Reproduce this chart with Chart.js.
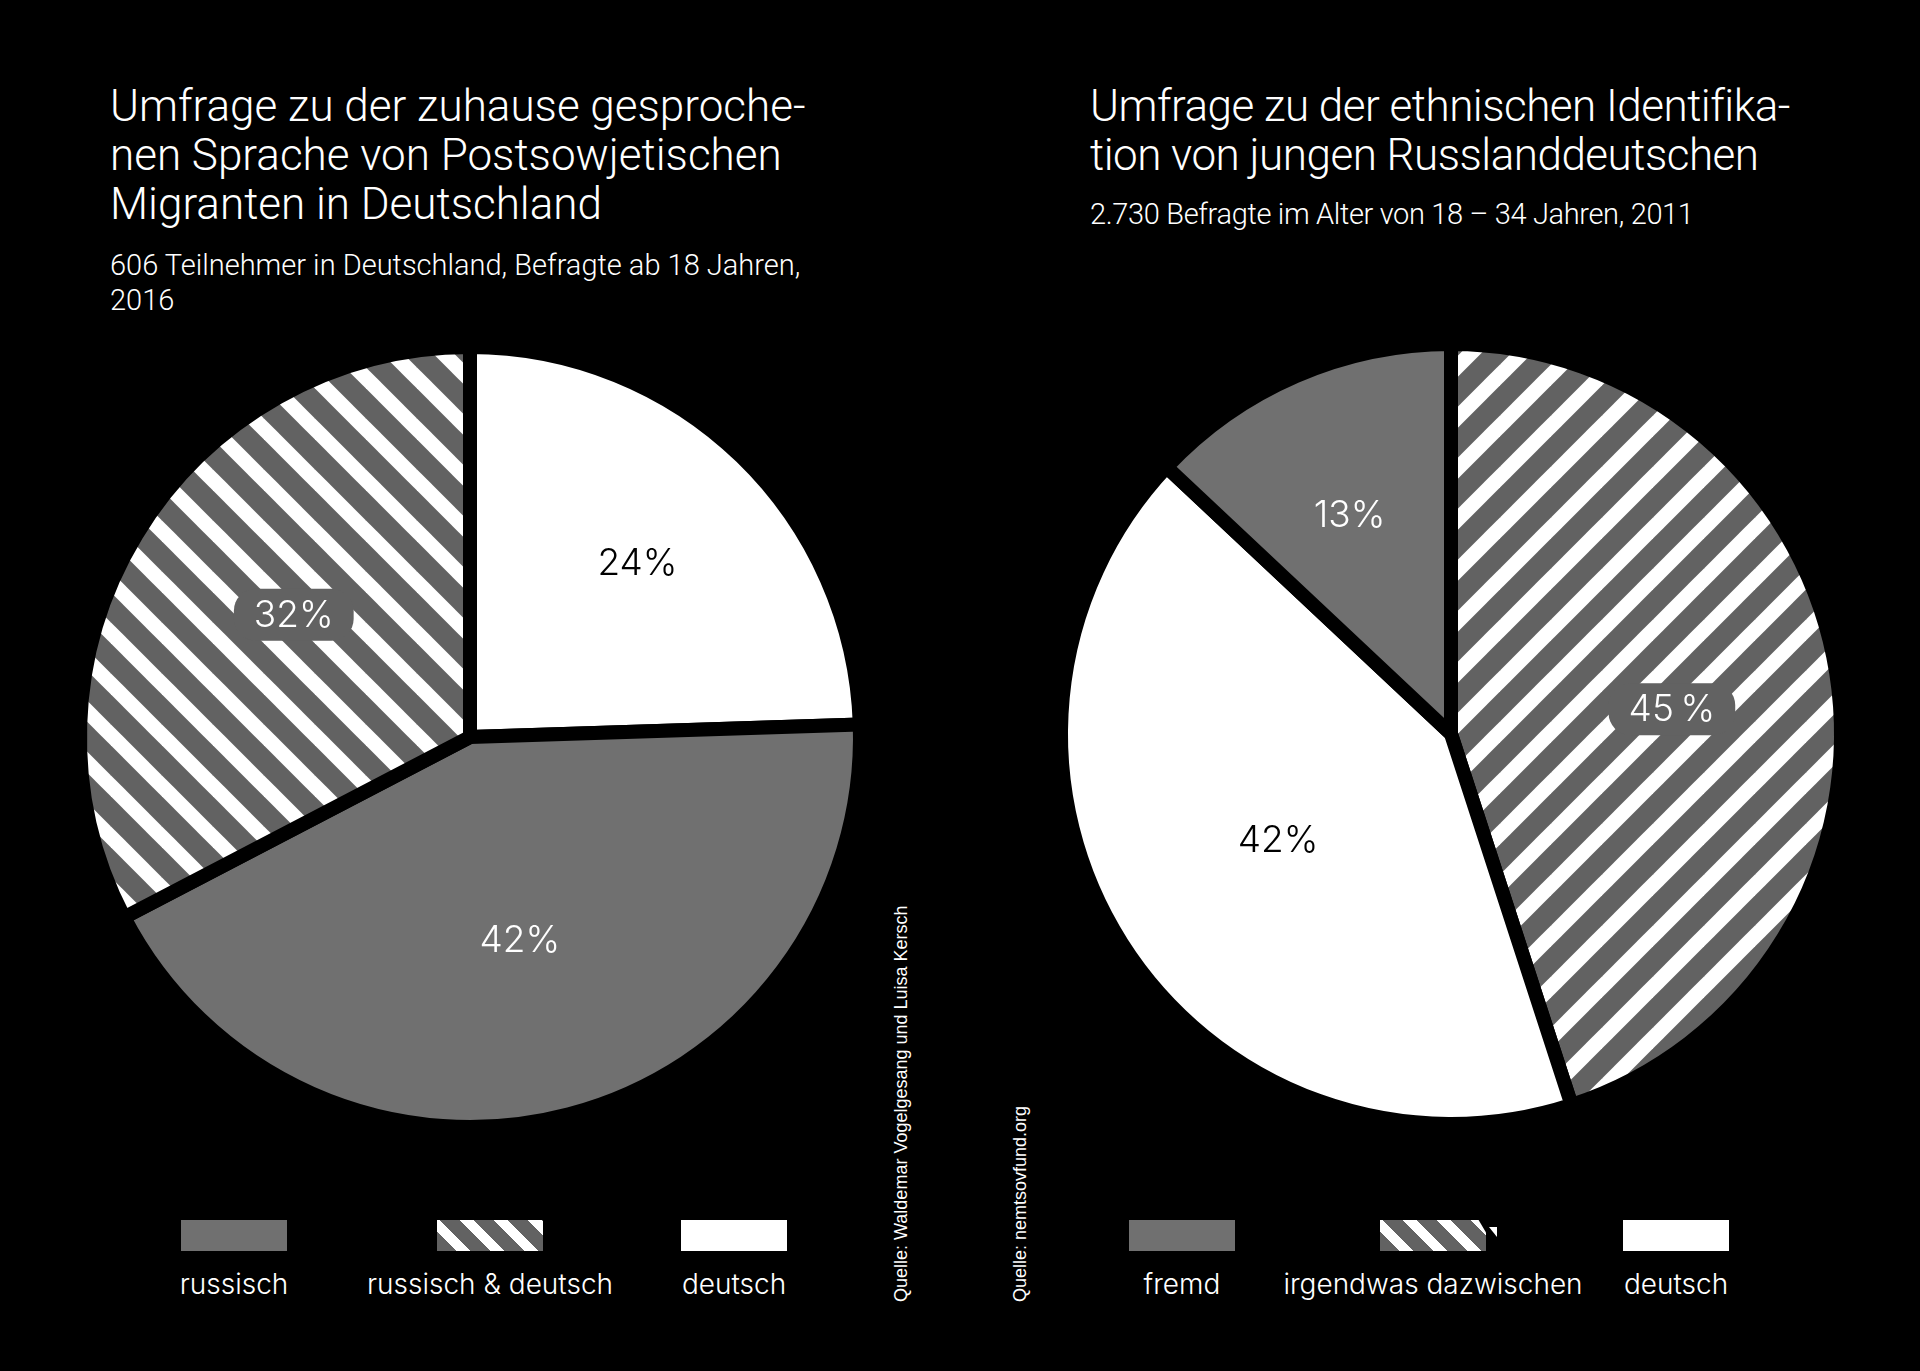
<!DOCTYPE html>
<html><head><meta charset="utf-8">
<script src="https://cdn.jsdelivr.net/npm/chart.js@4.4.1/dist/chart.umd.min.js"></script>
<style>
html,body{margin:0;padding:0;background:#000;}
body{width:1920px;height:1371px;position:relative;overflow:hidden;font-family:Roboto,"Noto Sans",sans-serif;color:#fff;}
.title{position:absolute;font-weight:300;font-size:44px;line-height:49px;white-space:nowrap;}
.sub{position:absolute;font-weight:300;font-size:29px;line-height:35px;white-space:nowrap;}
canvas{position:absolute;}
.leg{position:absolute;top:1220px;width:0;height:0;}
.sw{position:absolute;width:106px;height:31px;left:-53px;top:0;}
.tri{position:absolute;left:56px;top:7px;width:8px;height:10px;background:#fff;clip-path:polygon(0 0,100% 0,100% 100%);}
.lab{position:absolute;top:50px;left:0;transform:translateX(-50%);font-family:Inter,sans-serif;font-weight:300;font-size:28px;line-height:28px;white-space:nowrap;}
.src{position:absolute;font-family:"Liberation Sans",Arial,sans-serif;font-size:18px;line-height:21px;transform-origin:left top;transform:rotate(-90deg);white-space:nowrap;}
</style>
</head>
<body>
<div class="title" id="t1" style="left:110px;top:82px;"></div>
<div class="sub" id="s1" style="left:110px;top:248px;"></div>
<div class="title" id="t2" style="left:1090px;top:82px;letter-spacing:-0.5px;"></div>
<div class="sub" id="s2" style="left:1090px;top:197px;letter-spacing:-0.35px;"></div>
<canvas id="pieL" width="820" height="820" style="left:60px;top:327px;"></canvas>
<canvas id="pieR" width="820" height="820" style="left:1041px;top:324px;"></canvas>
<div id="legL"></div>
<div id="legR"></div>
<div class="src" style="left:891px;top:1302px;">Quelle: Waldemar Vogelgesang und Luisa Kersch</div>
<div class="src" style="left:1010px;top:1302px;">Quelle: nemtsovfund.org</div>
<script>
// ---- data ----
const leftTitle = ['Umfrage zu der zuhause gesproche-', 'nen Sprache von Postsowjetischen', 'Migranten in Deutschland'];
const leftSubtitle = ['606 Teilnehmer in Deutschland, Befragte ab 18 Jahren,', '2016'];
const leftCategories = ['deutsch', 'russisch', 'russisch & deutsch'];   // clockwise from top
const leftValues = [24, 42, 32];
const leftLegendOrder = [1, 2, 0];

const rightTitle = ['Umfrage zu der ethnischen Identifika-', 'tion von jungen Russlanddeutschen'];
const rightSubtitle = ['2.730 Befragte im Alter von 18 \u2013 34 Jahren, 2011'];
const rightCategories = ['irgendwas dazwischen', 'deutsch', 'fremd']; // clockwise from top
const rightValues = [45, 42, 13];
const rightLegendOrder = [2, 0, 1];

// ---- styles ----
const WHITE = '#ffffff', GREY = '#707070', SGREY = '#626262';
function stripePattern(dir) {
  const P = 51, c = document.createElement('canvas');
  c.width = c.height = P;
  const g = c.getContext('2d');
  g.fillStyle = SGREY; g.fillRect(0, 0, P, P);
  g.strokeStyle = WHITE; g.lineWidth = 15;
  for (let k = -2; k <= 2; k++) {
    g.beginPath();
    if (dir === 'back') { g.moveTo(k * P - P, -P); g.lineTo(k * P + 2 * P, 2 * P); }
    else { g.moveTo(k * P - P, 2 * P); g.lineTo(k * P + 2 * P, -P); }
    g.stroke();
  }
  return g.createPattern(c, 'repeat');
}
const swatchStripe = 'repeating-linear-gradient(45deg,' + SGREY + ' 0 14px,#fff 14px 24px)';

function fill(id, lines) { document.getElementById(id).innerHTML = lines.join('<br>'); }
fill('t1', leftTitle); fill('s1', leftSubtitle);
fill('t2', rightTitle); fill('s2', rightSubtitle);

const pctLabels = {
  id: 'pctLabels',
  afterDatasetsDraw(chart, args, opts) {
    const ctx = chart.ctx;
    const meta = chart.getDatasetMeta(0);
    const vals = chart.data.datasets[0].data;
    meta.data.forEach((arc, i) => {
      const p = arc.getProps(['x', 'y', 'startAngle', 'endAngle', 'outerRadius'], true);
      const pos = opts.pos[i];
      const a = p.startAngle + pos.t * (p.endAngle - p.startAngle);
      const r = p.outerRadius * pos.r;
      const x = p.x + Math.cos(a) * r, y = p.y + Math.sin(a) * r;
      const text = vals[i] + (opts.gap && opts.gap[i] ? '\u2009%' : '%');
      ctx.save();
      ctx.font = '300 37px Inter';
      ctx.textAlign = 'center';
      ctx.textBaseline = 'middle';
      if (opts.pill[i]) {
        const w = ctx.measureText(text).width + 40, h = 52;
        ctx.fillStyle = SGREY;
        ctx.beginPath();
        ctx.roundRect(x - w / 2, y - h / 2, w, h, 22);
        ctx.fill();
      }
      ctx.fillStyle = opts.color[i];
      ctx.fillText(text, x, y + 1);
      ctx.restore();
    });
  }
};

function makePie(id, cats, vals, colors, labelOpts) {
  return new Chart(document.getElementById(id), {
    type: 'pie',
    data: { labels: cats, datasets: [{ data: vals, backgroundColor: colors, borderColor: '#000', borderWidth: 14, hoverOffset: 0 }] },
    options: {
      responsive: false, animation: false, events: [],
      radius: 390,
      layout: { padding: 0 },
      plugins: { legend: { display: false }, tooltip: { enabled: false }, pctLabels: labelOpts }
    },
    plugins: [pctLabels]
  });
}

makePie('pieL', leftCategories, leftValues, [WHITE, GREY, stripePattern('back')], {
  pos: [{ t: 0.497, r: 0.62 }, { t: 0.506, r: 0.536 }, { t: 0.53, r: 0.55 }],
  color: ['#000', '#fff', '#fff'], pill: [false, false, true]
});
makePie('pieR', rightCategories, rightValues, [stripePattern('fwd'), WHITE, GREY], {
  pos: [{ t: 0.516, r: 0.57 }, { t: 0.506, r: 0.52 }, { t: 0.47, r: 0.62 }],
  color: ['#fff', '#000', '#fff'], pill: [true, false, false], gap: [true, false, false]
});

function legend(id, cats, order, swatches, xs, quirk) {
  const host = document.getElementById(id);
  order.forEach((idx, k) => {
    const d = document.createElement('div');
    d.className = 'leg';
    d.style.left = xs[k] + 'px';
    const sw = document.createElement('div');
    sw.className = 'sw';
    sw.style.background = swatches[idx];
    d.appendChild(sw);
    if (quirk === k) {
      sw.style.clipPath = 'polygon(0 0,93% 0,100% 40%,100% 100%,0 100%)';
      const t = document.createElement('div');
      t.className = 'tri';
      d.appendChild(t);
    }
    const lb = document.createElement('div');
    lb.className = 'lab';
    lb.textContent = cats[idx];
    d.appendChild(lb);
    host.appendChild(d);
  });
}
legend('legL', leftCategories, leftLegendOrder, [WHITE, GREY, swatchStripe], [234, 490, 734], -1);
legend('legR', rightCategories, rightLegendOrder, [swatchStripe, WHITE, GREY], [1182, 1433, 1676], 1);
</script>
</body></html>
